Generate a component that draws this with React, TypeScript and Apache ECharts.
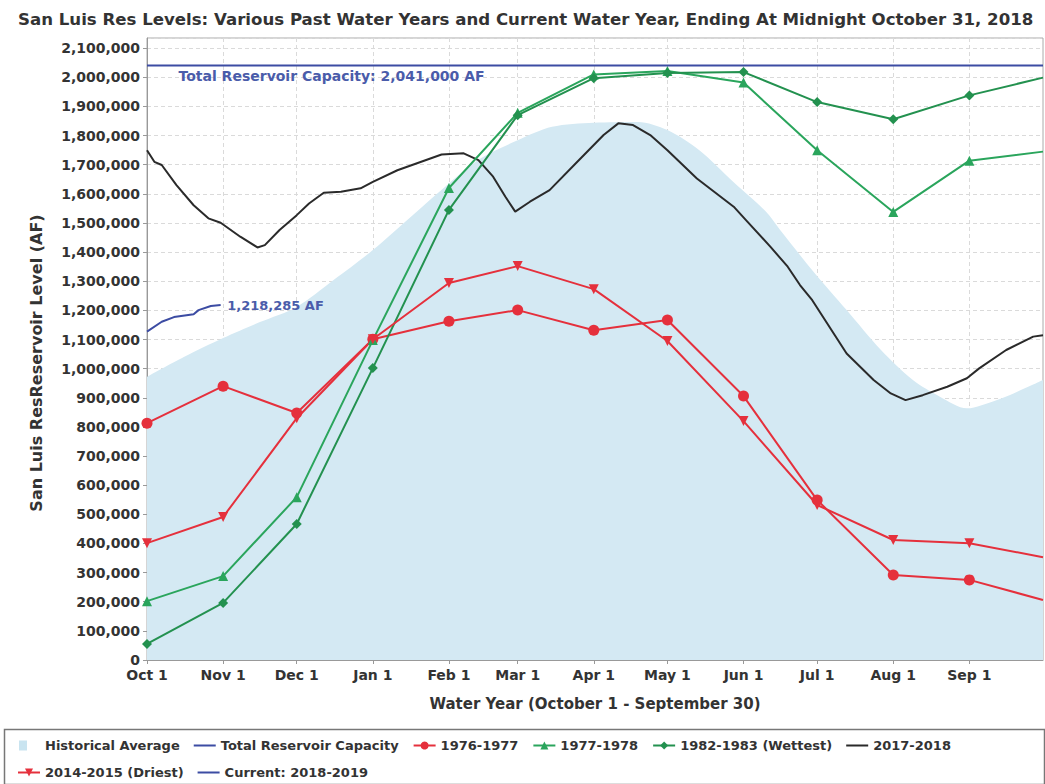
import React, { useEffect, useRef } from 'react';
import * as echarts from 'echarts';

const FONT = '"DejaVu Sans", Arial, sans-serif';

const TITLE = 'San Luis Res Levels: Various Past Water Years and Current Water Year, Ending At Midnight October 31, 2018';
const Y_NAME = 'San Luis ResReservoir Level (AF)';
const X_NAME = 'Water Year (October 1 - September 30)';

// x axis: days of water year (0 = Oct 1, 365 = Oct 1 of next year)
const DAY_COUNT = 366;
const monthStartDays = [0, 31, 61, 92, 123, 151, 182, 212, 243, 273, 304, 335];
const monthLabels = ['Oct 1', 'Nov 1', 'Dec 1', 'Jan 1', 'Feb 1', 'Mar 1', 'Apr 1', 'May 1', 'Jun 1', 'Jul 1', 'Aug 1', 'Sep 1'];

// monthly sample days for historic years
const monthlyDays = [0, 31, 61, 92, 123, 151, 182, 212, 243, 273, 304, 335, 365];
const wy1976_1977 = [813000, 940000, 848000, 1101000, 1163000, 1201000, 1132000, 1167000, 906000, 549000, 292000, 275000, 206000];
const wy1977_1978 = [202000, 288000, 559000, 1098000, 1620000, 1878000, 2010000, 2022000, 1982000, 1750000, 1538000, 1714000, 1745000];
const wy1982_1983 = [55000, 196000, 467000, 1002000, 1545000, 1870000, 1997000, 2015000, 2018000, 1915000, 1856000, 1938000, 1999000];
const wy2014_2015 = [401000, 491000, 830000, 1101000, 1294000, 1352000, 1273000, 1095000, 820000, 532000, 412000, 401000, 353000];

// historical average (day, AF)
const histDays = [0, 15, 31, 46, 61, 76, 92, 108, 123, 136, 151, 165, 182, 200, 212, 225, 239, 252, 258, 271, 285, 299, 312, 323, 334, 346, 353, 365];
const histValues = [972000, 1040000, 1105000, 1160000, 1212000, 1304000, 1407000, 1525000, 1636000, 1722000, 1784000, 1830000, 1844000, 1847000, 1819000, 1750000, 1640000, 1540000, 1475000, 1338000, 1201000, 1064000, 961000, 904000, 864000, 892000, 915000, 961000];

// 2017-2018 daily-ish trace (day, AF)
const wy2017Days = [0, 3, 6, 12, 19, 25, 30, 38, 45, 48, 54, 61, 66, 72, 79, 87, 92, 102, 108, 120, 129, 135, 141, 146, 150, 156, 164, 176, 186, 192, 198, 205, 212, 224, 239, 244, 254, 261, 266, 271, 285, 296, 303, 309, 316, 326, 334, 339, 350, 361, 365];
const wy2017Values = [1750000, 1710000, 1699000, 1630000, 1561000, 1516000, 1501000, 1453000, 1416000, 1424000, 1476000, 1527000, 1567000, 1604000, 1607000, 1619000, 1641000, 1681000, 1699000, 1735000, 1739000, 1716000, 1659000, 1590000, 1539000, 1573000, 1613000, 1716000, 1802000, 1842000, 1836000, 1802000, 1750000, 1653000, 1556000, 1510000, 1418000, 1350000, 1287000, 1235000, 1052000, 961000, 915000, 892000, 909000, 938000, 967000, 1001000, 1064000, 1110000, 1115000];

// current water year 2018-2019
const currentDays = [0, 6, 11, 19, 21, 26, 30];
const currentValues = [1127000, 1161000, 1177000, 1187000, 1201000, 1215000, 1218285];

const CAPACITY = 2041000;
const capacityDays = [0, 365];

const pair = (days: number[], vals: number[]) => days.map((d, i) => [d, vals[i]]);
const fmt = (v: number) => v.toLocaleString('en-US');

// legend icons: plain line and small square (bounding box 22x10)
const LINE_ICON = 'path://M0,0L0,0Z M22,10L22,10Z M0,4L22,4L22,6L0,6Z';
const SQUARE_ICON = 'path://M0,0L0,0Z M22,10L22,10Z M1,0L9,0L9,10L1,10Z';

export default function App() {
  const ref = useRef<HTMLDivElement>(null);
  useEffect(() => {
    if (!ref.current) return;
    const chart = echarts.init(ref.current, null, { renderer: 'svg' });
    const categories = Array.from({ length: DAY_COUNT }, (_, i) => String(i));
    const isMonth = (idx: number) => monthStartDays.includes(idx);
    const red = '#e5303c';
    const green1 = '#2aa55c';
    const green2 = '#23914f';
    const blue = '#3c4ca3';
    chart.setOption({
      animation: false,
      backgroundColor: '#ffffff',
      textStyle: { fontFamily: FONT },
      title: {
        text: TITLE,
        left: 13,
        top: 6,
        textStyle: { fontSize: 16.6, fontWeight: 'bold', color: '#333', fontFamily: FONT },
      },
      grid: {
        left: 147,
        right: 2,
        top: 38,
        bottom: 124,
        show: true,
        borderColor: '#aaa',
        borderWidth: 1,
      },
      xAxis: {
        type: 'category',
        data: categories,
        boundaryGap: false,
        name: X_NAME,
        nameLocation: 'middle',
        nameGap: 36,
        nameTextStyle: { fontSize: 15, fontWeight: 'bold', color: '#333', fontFamily: FONT },
        axisLine: { lineStyle: { color: '#999' } },
        axisTick: { interval: (idx: number) => isMonth(idx), length: 4, lineStyle: { color: '#999' } },
        axisLabel: {
          interval: (idx: number) => isMonth(idx),
          formatter: (v: string) => {
            const k = monthStartDays.indexOf(parseInt(v, 10));
            return k >= 0 ? monthLabels[k] : '';
          },
          fontSize: 14,
          fontWeight: 'bold',
          color: '#333',
          margin: 8,
          fontFamily: FONT,
        },
        splitLine: {
          show: true,
          interval: (idx: number) => isMonth(idx) && idx > 0,
          lineStyle: { color: '#dadada', type: [4, 3] },
        },
      },
      yAxis: {
        type: 'value',
        min: 0,
        max: 2135000,
        interval: 100000,
        name: Y_NAME,
        nameLocation: 'middle',
        nameRotate: 90,
        nameGap: 103,
        nameTextStyle: { fontSize: 16, fontWeight: 'bold', color: '#333', fontFamily: FONT, padding: [0, 28, 0, 0] },
        axisLine: { show: true, lineStyle: { color: '#999' } },
        axisTick: { show: true, length: 4, lineStyle: { color: '#999' } },
        axisLabel: {
          showMaxLabel: false,
          formatter: (v: number) => fmt(v),
          fontSize: 14,
          fontWeight: 'bold',
          color: '#333',
          margin: 7,
          fontFamily: FONT,
        },
        splitLine: { show: true, lineStyle: { color: '#dadada', type: [4, 3] } },
      },
      legend: {
        left: 12,
        top: 734,
        width: 1010,
        itemWidth: 22,
        itemHeight: 10,
        itemGap: 14,
        textStyle: { fontSize: 13, fontWeight: 'bold', color: '#333', fontFamily: FONT },
        data: [
          { name: 'Historical Average', icon: SQUARE_ICON },
          { name: 'Total Reservoir Capacity', icon: LINE_ICON },
          '1976-1977',
          '1977-1978',
          '1982-1983 (Wettest)',
          { name: '2017-2018', icon: LINE_ICON },
          '2014-2015 (Driest)',
          { name: 'Current: 2018-2019', icon: LINE_ICON },
        ],
      },
      graphic: [
        {
          type: 'rect',
          left: 2,
          top: 727,
          z: -1,
          silent: true,
          shape: { width: 1040, height: 55 },
          style: { fill: 'none', stroke: '#777', lineWidth: 1.5 },
        },
      ],
      series: [
        {
          name: 'Historical Average',
          type: 'line',
          data: pair(histDays, histValues),
          symbol: 'none',
          smooth: 0.3,
          lineStyle: { width: 0 },
          itemStyle: { color: '#c9e4f0' },
          areaStyle: { color: '#d4e9f3', opacity: 1 },
          z: 1,
        },
        {
          name: 'Total Reservoir Capacity',
          type: 'line',
          data: capacityDays.map((d) => [d, CAPACITY]),
          symbol: 'none',
          lineStyle: { width: 2, color: blue },
          itemStyle: { color: blue },
          z: 5,
          markPoint: {
            symbol: 'circle',
            symbolSize: 1,
            itemStyle: { color: 'rgba(0,0,0,0)' },
            data: [
              {
                coord: [0, CAPACITY],
                label: {
                  show: true,
                  position: 'right',
                  distance: 0,
                  offset: [31, 11],
                  formatter: 'Total Reservoir Capacity: ' + fmt(CAPACITY) + ' AF',
                  fontSize: 14,
                  fontWeight: 'bold',
                  color: '#4a5caa',
                  fontFamily: FONT,
                },
              },
            ],
          },
        },
        {
          name: '1976-1977',
          type: 'line',
          data: pair(monthlyDays, wy1976_1977),
          symbol: 'circle',
          symbolSize: 11,
          lineStyle: { width: 2, color: red },
          itemStyle: { color: red },
          z: 4,
        },
        {
          name: '1977-1978',
          type: 'line',
          data: pair(monthlyDays, wy1977_1978),
          symbol: 'triangle',
          symbolSize: 10,
          lineStyle: { width: 2, color: green1 },
          itemStyle: { color: green1 },
          z: 4,
        },
        {
          name: '1982-1983 (Wettest)',
          type: 'line',
          data: pair(monthlyDays, wy1982_1983),
          symbol: 'diamond',
          symbolSize: 10,
          lineStyle: { width: 2, color: green2 },
          itemStyle: { color: green2 },
          z: 4,
        },
        {
          name: '2017-2018',
          type: 'line',
          data: pair(wy2017Days, wy2017Values),
          symbol: 'none',
          lineStyle: { width: 2, color: '#2a2a2a' },
          itemStyle: { color: '#2a2a2a' },
          z: 3,
        },
        {
          name: '2014-2015 (Driest)',
          type: 'line',
          data: pair(monthlyDays, wy2014_2015),
          symbol: 'triangle',
          symbolRotate: 180,
          symbolSize: 10,
          lineStyle: { width: 2, color: red },
          itemStyle: { color: red },
          z: 4,
        },
        {
          name: 'Current: 2018-2019',
          type: 'line',
          data: pair(currentDays, currentValues),
          symbol: 'none',
          lineStyle: { width: 2, color: blue },
          itemStyle: { color: blue },
          z: 5,
          markPoint: {
            symbol: 'circle',
            symbolSize: 1,
            itemStyle: { color: 'rgba(0,0,0,0)' },
            data: [
              {
                coord: [currentDays[currentDays.length - 1], currentValues[currentValues.length - 1]],
                label: {
                  show: true,
                  position: 'right',
                  distance: 6,
                  formatter: fmt(currentValues[currentValues.length - 1]) + ' AF',
                  fontSize: 13,
                  fontWeight: 'bold',
                  color: '#4a5caa',
                  fontFamily: FONT,
                },
              },
            ],
          },
        },
      ],
    });
    return () => chart.dispose();
  }, []);
  return (
    <div
      ref={ref}
      style={{ position: 'fixed', left: 0, top: 0, width: 1045, height: 784, background: '#fff' }}
    />
  );
}
